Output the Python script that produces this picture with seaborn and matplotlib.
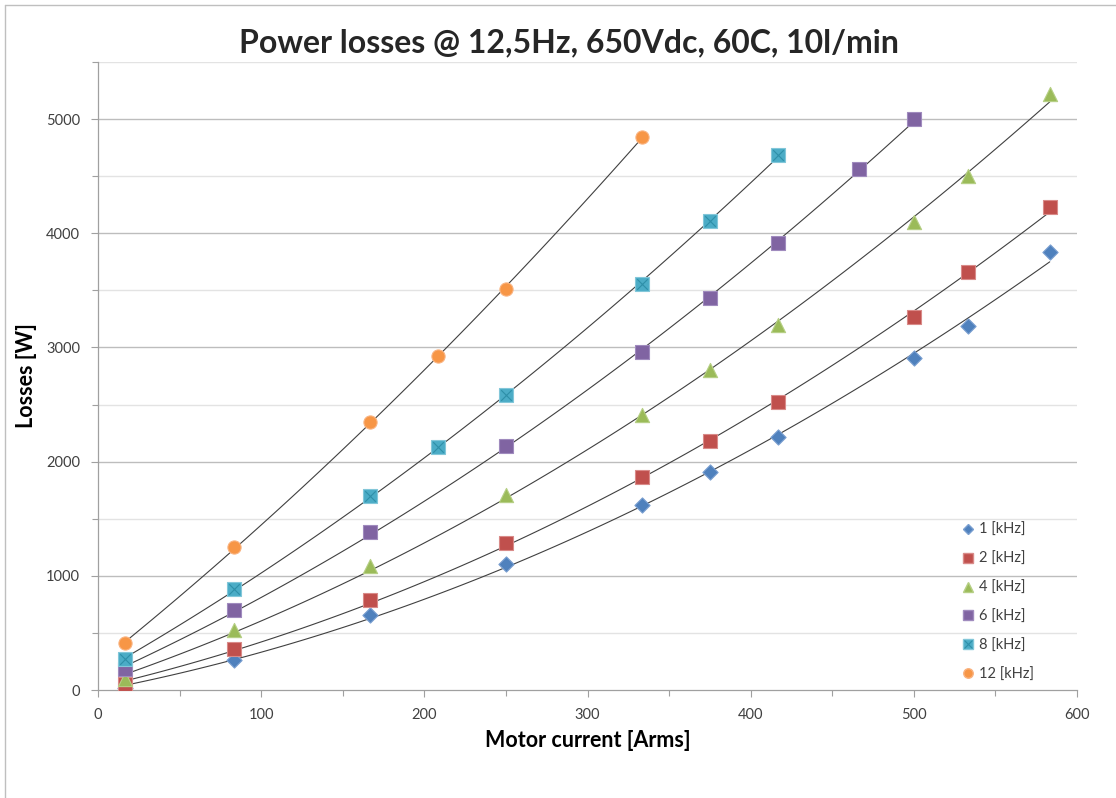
import numpy as np
import pandas as pd
import matplotlib
matplotlib.use("Agg")
import matplotlib.pyplot as plt
from matplotlib.lines import Line2D
from matplotlib.ticker import MultipleLocator
from matplotlib.legend_handler import HandlerTuple
import seaborn as sns

# ---- data ----
x_1k = [16.7, 83.3, 166.7, 250, 333.3, 375, 416.7, 500, 533.3, 583.3]
y_1k = [18, 265, 657, 1100, 1620, 1910, 2220, 2910, 3190, 3835]
x_2k = [16.7, 83.3, 166.7, 250, 333.3, 375, 416.7, 500, 533.3, 583.3]
y_2k = [52, 355, 788, 1285, 1862, 2180, 2518, 3268, 3658, 4230]
x_4k = [16.7, 83.3, 166.7, 250, 333.3, 375, 416.7, 500, 533.3, 583.3]
y_4k = [95, 528, 1082, 1705, 2410, 2802, 3196, 4100, 4500, 5222]
x_6k = [16.7, 83.3, 166.7, 250, 333.3, 375, 416.7, 466.7, 500]
y_6k = [185, 700, 1385, 2137, 2956, 3437, 3912, 4560, 4998]
x_8k = [16.7, 83.3, 166.7, 208.3, 250, 333.3, 375, 416.7]
y_8k = [270, 882, 1695, 2128, 2580, 3555, 4108, 4685]
x_12k = [16.7, 83.3, 166.7, 208.3, 250, 333.3]
y_12k = [411, 1250, 2343, 2921, 3510, 4844]

labels = ["1 [kHz]", "2 [kHz]", "4 [kHz]", "6 [kHz]", "8 [kHz]", "12 [kHz]"]
title = "Power losses @ 12,5Hz, 650Vdc, 60C, 10l/min"
xlabel = "Motor current [Arms]"
ylabel = "Losses [W]"

series = [(x_1k, y_1k), (x_2k, y_2k), (x_4k, y_4k), (x_6k, y_6k), (x_8k, y_8k), (x_12k, y_12k)]
colors = ["#4F81BD", "#C0504D", "#9BBB59", "#8064A2", "#4BACC6", "#F79646"]
edges = ["#7A9FD0", "#D98B89", "#B6CF85", "#A08BBE", "#83C7D9", "#F9B27F"]
markers = ["D", "s", "^", "s", "s", "o"]
sizes = [60, 95, 105, 105, 105, 90]

sns.set_theme(style="white")
plt.rcParams["font.family"] = ["Lato", "DejaVu Sans"]

fig = plt.figure(figsize=(11.16, 7.98), dpi=100)
ax = fig.add_axes([98 / 1116, 108 / 798, 979 / 1116, 628 / 798])

# gridlines
for yv in np.arange(500, 5501, 500):
    major = (yv % 1000 == 0)
    ax.axhline(yv, color="#BDBDBD" if major else "#E3E3E3", lw=1.0, zorder=0)

handles = []
for i, (xs, ys) in enumerate(series):
    df = pd.DataFrame({"x": xs, "y": ys})
    sns.regplot(data=df, x="x", y="y", order=2, ci=None, scatter=False, truncate=True,
                line_kws=dict(color="#404040", lw=0.8, zorder=2), ax=ax)
    sns.scatterplot(data=df, x="x", y="y", marker=markers[i], s=sizes[i], color=colors[i],
                    edgecolor=edges[i], linewidth=0.8, zorder=3, ax=ax, legend=False)
    h = Line2D([], [], ls="none", marker=markers[i], color=colors[i], markeredgecolor=edges[i],
               markersize=np.sqrt(sizes[i]) * 0.72)
    if i == 4:
        sns.scatterplot(data=df, x="x", y="y", marker="x", s=sizes[i] * 0.55, color="#2E8FA8",
                        linewidth=0.8, zorder=4, ax=ax, legend=False)
        hx = Line2D([], [], ls="none", marker="x", color="#2E8FA8", markersize=np.sqrt(sizes[i]) * 0.5,
                    markeredgewidth=0.8)
        h = (h, hx)
    handles.append(h)

ax.set_xlim(0, 600)
ax.set_ylim(0, 5500)
ax.xaxis.set_major_locator(MultipleLocator(100))
ax.xaxis.set_minor_locator(MultipleLocator(50))
ax.yaxis.set_major_locator(MultipleLocator(1000))
ax.yaxis.set_minor_locator(MultipleLocator(500))
ax.set_yticks([0, 1000, 2000, 3000, 4000, 5000])
ax.tick_params(axis="both", which="both", direction="out", color="#A0A0A0", width=0.8,
               labelsize=10.5, labelcolor="#404040")
ax.tick_params(axis="both", which="major", length=5, bottom=True, left=True)
ax.tick_params(axis="both", which="minor", length=4, bottom=True, left=True)
ax.tick_params(axis="y", pad=8)
ax.tick_params(axis="x", pad=8)

for s in ["top", "right"]:
    ax.spines[s].set_visible(False)
for s in ["left", "bottom"]:
    ax.spines[s].set_color("#A0A0A0")
    ax.spines[s].set_linewidth(0.9)

ax.set_xlabel(xlabel, fontsize=15.5, fontweight="bold", color="#000000", labelpad=6)
ax.set_ylabel(ylabel, fontsize=15.5, fontweight="bold", color="#000000", labelpad=6)
fig.text(569 / 1116, 1 - 43 / 798, title, fontsize=23, fontweight="bold", ha="center", va="center")

leg = ax.legend(handles, labels, loc="upper left", bbox_to_anchor=(0.874, 0.278), frameon=False,
                fontsize=10.5, labelspacing=1.02, handlelength=1.0, handletextpad=0.25,
                borderpad=0, handler_map={tuple: HandlerTuple(ndivide=1)})
for t in leg.get_texts():
    t.set_color("#404040")

# chart frame
fig.add_artist(Line2D([5 / 1116, 1], [1 - 5 / 798, 1 - 5 / 798], color="#BFBFBF", lw=1.0))
fig.add_artist(Line2D([5 / 1116, 5 / 1116], [0, 1 - 5 / 798], color="#BFBFBF", lw=1.0))

fig.savefig("out.png", dpi=100)
